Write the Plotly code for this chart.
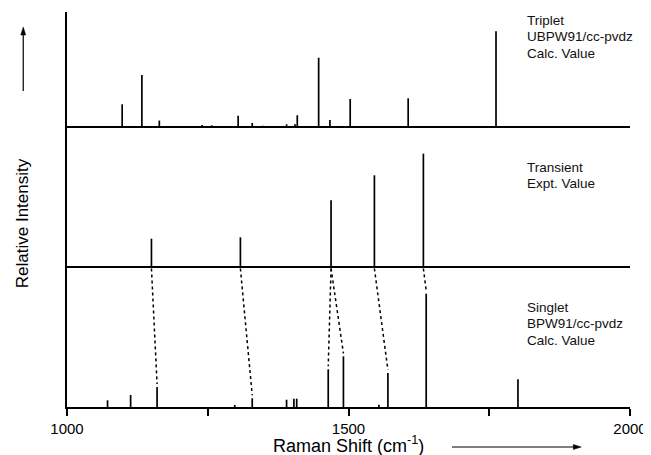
import plotly.graph_objects as go

# ---------------- data ----------------
singlet_shift = [1072, 1113, 1160, 1298, 1329, 1390, 1403, 1408, 1464, 1491, 1554, 1570, 1638, 1801]
singlet_int = [6.7, 12, 20, 2, 8.7, 7.3, 8.3, 8.3, 37.7, 50.7, 2.3, 34, 113.3, 27.7]

transient_shift = [1150, 1308, 1469, 1546, 1633]
transient_int = [28.3, 29.7, 66.7, 91.7, 113.3]

triplet_shift = [1098, 1133, 1164, 1240, 1257, 1304, 1329, 1348, 1390, 1405, 1409, 1447, 1467, 1503, 1606, 1762]
triplet_int = [22.7, 52, 6.4, 2, 1.7, 11.3, 4, 1.3, 2.7, 2.7, 11.7, 69.3, 7, 28, 28.7, 95.7]

# correlation (expt. transient band -> calc. singlet band)
corr_expt = [1150, 1308, 1469, 1469, 1546, 1633]
corr_calc = [1160, 1329, 1464, 1491, 1570, 1638]

x_major_ticks = [1000, 1500, 2000]
x_ticklabels = ["1000", "1500", "2000"]
x_minor_ticks = [1250, 1750]

triplet_label = ["Triplet", "UBPW91/cc-pvdz", "Calc. Value"]
transient_label = ["Transient", "Expt. Value"]
singlet_label = ["Singlet", "BPW91/cc-pvdz", "Calc. Value"]

# ---------------- layout constants ----------------
PAGE_OFF = 8                      # default body margin of the html page
W, H = 651 - PAGE_OFF, 455 - PAGE_OFF
ML, MR, MT, MB = 59, 18, 4, 48
PW, PH = W - ML - MR, H - MT - MB
OFF_SINGLET, OFF_TRANSIENT, OFF_TRIPLET = 0, 140, 280
FONT = "Liberation Sans, Arial, Helvetica, sans-serif"
STICK_W = 1.7
LABEL_X = 1813
LINE_STEP = 16.7


def sticks(xs, hs, base):
    X, Y = [], []
    for x, h in zip(xs, hs):
        X += [x, x, None]
        Y += [base, base + h, None]
    return X, Y


def px_x(p):
    return (p - PAGE_OFF - ML) / PW


def px_y(p):
    return (H - MB - (p - PAGE_OFF)) / PH


fig = go.Figure()

# panel baselines (middle and top)
for base in (OFF_TRANSIENT, OFF_TRIPLET):
    fig.add_trace(go.Scatter(x=[1000, 2000], y=[base, base], mode="lines",
                             line=dict(color="black", width=2), hoverinfo="skip"))

# correlation dotted lines
sing_lookup = dict(zip(singlet_shift, singlet_int))
for xe, xc in zip(corr_expt, corr_calc):
    fig.add_trace(go.Scatter(x=[xe, xc], y=[OFF_TRANSIENT - 1.5, OFF_SINGLET + sing_lookup[xc] + 3],
                             mode="lines", line=dict(color="black", width=1.5, dash="dot"),
                             hoverinfo="skip"))

for xs, hs, base in ((singlet_shift, singlet_int, OFF_SINGLET),
                     (transient_shift, transient_int, OFF_TRANSIENT),
                     (triplet_shift, triplet_int, OFF_TRIPLET)):
    X, Y = sticks(xs, hs, base)
    fig.add_trace(go.Scatter(x=X, y=Y, mode="lines",
                             line=dict(color="black", width=STICK_W), hoverinfo="skip"))

ann_font = dict(family=FONT, size=13.5, color="#111")
annotations = []
for lines, top_y in ((triplet_label, 387), (transient_label, 240), (singlet_label, 100)):
    for i, t in enumerate(lines):
        annotations.append(dict(x=LABEL_X, y=top_y - i * LINE_STEP, xref="x", yref="y",
                                xanchor="left", yanchor="middle", align="left",
                                showarrow=False, text=t, font=ann_font))

annotations += [
    dict(x=0.5, y=px_y(444), xref="paper", yref="paper", xanchor="center", yanchor="middle",
         showarrow=False, text="Raman Shift (cm<sup>-1</sup>)",
         font=dict(family=FONT, size=18, color="black")),
    dict(x=px_x(23), y=px_y(223), xref="paper", yref="paper", xanchor="center", yanchor="middle",
         showarrow=False, text="Relative Intensity", textangle=-90,
         font=dict(family=FONT, size=17, color="black")),
]

# decorative arrows (shapes in paper coordinates)
shapes = [
    dict(type="line", xref="paper", yref="paper",
         x0=px_x(454), x1=px_x(577), y0=px_y(447), y1=px_y(447),
         line=dict(color="black", width=1.2)),
    dict(type="path", xref="paper", yref="paper", fillcolor="black", line=dict(color="black", width=0.5),
         path="M {} {} L {} {} L {} {} Z".format(px_x(584), px_y(447), px_x(576), px_y(444.5),
                                                 px_x(576), px_y(449.5))),
    dict(type="line", xref="paper", yref="paper",
         x0=px_x(23), x1=px_x(23), y0=px_y(91), y1=px_y(34),
         line=dict(color="black", width=1.2)),
    dict(type="path", xref="paper", yref="paper", fillcolor="black", line=dict(color="black", width=0.5),
         path="M {} {} L {} {} L {} {} Z".format(px_x(23), px_y(27), px_x(20.5), px_y(35),
                                                 px_x(25.5), px_y(35))),
]

fig.update_layout(
    width=W, height=H,
    margin=dict(l=ML, r=MR, t=MT, b=MB, pad=0),
    paper_bgcolor="white", plot_bgcolor="white",
    showlegend=False,
    annotations=annotations,
    shapes=shapes,
    font=dict(family=FONT, color="black"),
    xaxis=dict(range=[1000, 2000], showline=True, linecolor="black", linewidth=2,
               ticks="outside", ticklen=7, tickwidth=1.5, tickcolor="black",
               tickvals=x_major_ticks, ticktext=x_ticklabels, showgrid=False, zeroline=False,
               tickfont=dict(family=FONT, size=15, color="black"),
               minor=dict(tickvals=x_minor_ticks, ticks="outside", ticklen=7, tickwidth=1.5,
                          tickcolor="black", showgrid=False)),
    yaxis=dict(range=[0, PH], showline=True, linecolor="black", linewidth=2,
               showticklabels=False, ticks="", showgrid=False, zeroline=False),
)

fig.write_html("out.html")
